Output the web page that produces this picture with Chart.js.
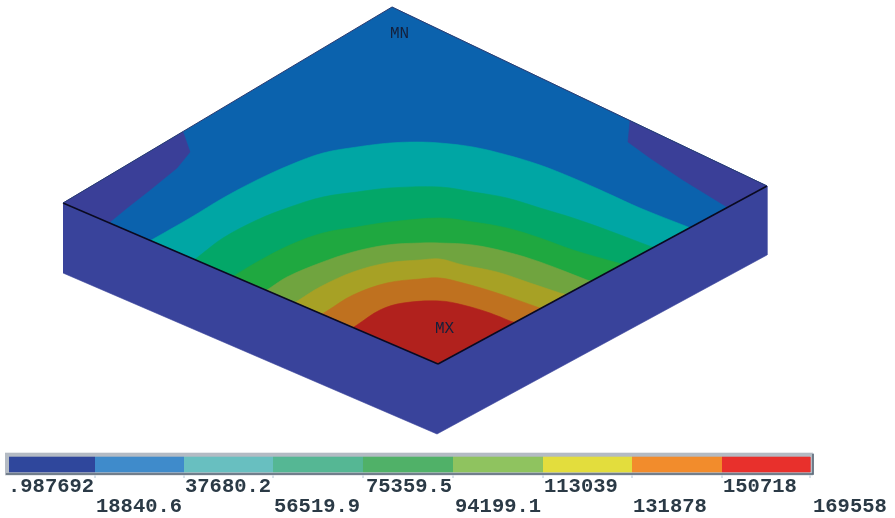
<!DOCTYPE html>
<html><head><meta charset="utf-8">
<style>html,body{margin:0;padding:0;background:#fff;overflow:hidden}canvas{display:block;filter:blur(0.6px)}</style>
<script src="https://cdn.jsdelivr.net/npm/chart.js@4"></script></head>
<body><canvas id="c" width="895" height="518"></canvas>
<script>
// Contour value labels of the colour key
const levelRow1 = ['.987692','37680.2','75359.5','113039','150718'];
const levelRow2 = ['18840.6','56519.9','94199.1','131878','169558'];
const levelRow1X = [8,185,366,544,723];
const levelRow2X = [96,274,455,633,813];
// Colour key bands
const keyEdges = [9,95,184,273,363,453,543,632,722,810];
const keyColors = ['#2f479c','#3f8bcb','#68bfc0','#55b794','#50b168','#8fc35f','#e3dd3d','#f28c2c','#e8302c'];
// Block outline
const topFace = [[392,7],[767,186],[438,364],[63,203]];
const sideFaces = [[63,203],[438,364],[767,186],[767,255],[437,434],[63,273]];
// Low-value corners (the tails run under the side faces)
const cornerLeft = [[63,203],[183,132],[190,152],[177,168],[150,190],[127,208],[110,222],[110,232],[63,232]];
const cornerRight = [[767,186],[630,121],[628,142],[650,158],[683,180],[727,207],[727,225],[767,225]];
// Contour arcs, each running from the left edge to the right edge of the top face
const arcTeal = [[155,238],[190,218],[223,198],[257,180],[290,165],[323,153],[357,147],[390,143],[417,142],[440,143],[473,147],[507,155],[540,165],[573,178],[607,193],[640,208],[688,227]];
const arcGreen = [[198,257],[223,238],[257,220],[290,207],[323,197],[357,192],[390,188],[440,187],[473,192],[507,198],[540,208],[573,218],[607,230],[652,247]];
const arcGreen2 = [[237,274],[257,262],[290,245],[323,233],[357,227],[390,222],[440,218],[473,222],[507,228],[540,238],[573,250],[618,263]];
const arcLime = [[270,288],[287,277],[320,263],[353,252],[387,245],[420,243],[440,243],[473,245],[507,252],[540,262],[587,280]];
const arcOlive = [[299,300],[320,287],[353,272],[387,263],[420,260],[440,259],[463,265],[497,272],[530,283],[560,293]];
const arcOrange = [[327,311],[353,295],[387,283],[420,279],[440,278],[463,283],[497,293],[537,307]];
const arcRed = [[357,325],[380,310],[403,303],[440,301],[463,305],[490,313],[510,321]];
const underFront = [438,395];
const keyFrame = [[5,453],[813,453],[813,475],[5,475]];
const keyShadow = [[6,474],[813,474],[813,454]];
const edgeLeft = [[63,203],[438,364]];
const edgeRight = [[438,364],[767,186]];

const toXY = pts=>pts.map(p=>({x:p[0],y:p[1]}));
const shape = (pts,color,tension=0)=>({data:toXY(pts),backgroundColor:color,borderColor:color,borderWidth:0.6,fill:'shape',showLine:true,pointRadius:0,tension,clip:false});
const line = (pts,color,w)=>({data:toXY(pts),borderColor:color,borderWidth:w,fill:false,showLine:true,pointRadius:0,tension:0,clip:false});
// run an arc on past its end, along its own direction, so it tucks under the side face
const past = (end,prev)=>{
  const dx=end[0]-prev[0],dy=end[1]-prev[1],len=Math.hypot(dx,dy);
  return [end[0]+dx/len*22,end[1]+dy/len*22];
};
const band = (arc,color)=>{
  const n=arc.length;
  return shape([past(arc[0],arc[1])].concat(arc,[past(arc[n-1],arc[n-2]),underFront]),color,0.35);
};

const layers = [
  shape(topFace,'#0b62ad'),
  shape(cornerLeft,'#3a3f98'),
  shape(cornerRight,'#3a3f98'),
  band(arcTeal,'#00a6a4'),
  band(arcGreen,'#03a768'),
  band(arcGreen2,'#1fa840'),
  band(arcLime,'#70a43f'),
  band(arcOlive,'#a7a125'),
  band(arcOrange,'#bf711f'),
  band(arcRed,'#b1211d'),
  shape(sideFaces,'#39439b'),
  line(edgeLeft,'#0a0a20',1.5),
  line(edgeRight,'#0a0a20',1.5),
  line(topFace.slice(0,2),'#2a3a70',1),
  line([topFace[0],topFace[3]],'#2a3a70',1),
  shape(keyFrame,'#b4bbc4'),
  line(keyShadow,'#5c6b7a',1.6)
];
keyColors.forEach((col,i)=>{
  const a=keyEdges[i],b=keyEdges[i+1];
  layers.push(shape([[a,457],[b,457],[b,472],[a,472]],col));
  layers.push(line([[b,475],[b,478]],'#d3dde6',1));
});
// Chart.js paints the first dataset on top, so hand the layers over back to front
const datasets = layers.slice().reverse();

const textPlugin = {
  id:'texts',
  afterDatasetsDraw(ch){
    const {ctx,scales:{x,y}}=ch;
    ctx.save();
    ctx.textBaseline='alphabetic';ctx.textAlign='left';
    ctx.fillStyle='#2b3a46';
    ctx.font='bold 20.5px "Liberation Mono"';
    levelRow1.forEach((t,i)=>ctx.fillText(t,x.getPixelForValue(levelRow1X[i]),y.getPixelForValue(492)));
    levelRow2.forEach((t,i)=>ctx.fillText(t,x.getPixelForValue(levelRow2X[i]),y.getPixelForValue(512)));
    ctx.font='16px "Liberation Mono"';
    ctx.fillStyle='#14203c';
    ctx.fillText('MN',x.getPixelForValue(390),y.getPixelForValue(38));
    ctx.fillText('MX',x.getPixelForValue(435),y.getPixelForValue(333));
    ctx.restore();
  }
};

new Chart(document.getElementById('c'),{
  type:'scatter',
  data:{datasets},
  options:{
    responsive:false,animation:false,
    layout:{padding:0},
    plugins:{legend:{display:false},tooltip:{enabled:false}},
    scales:{
      x:{type:'linear',display:false,min:0,max:895},
      y:{type:'linear',display:false,min:0,max:518,reverse:true}
    }
  },
  plugins:[textPlugin]
});
</script></body></html>
